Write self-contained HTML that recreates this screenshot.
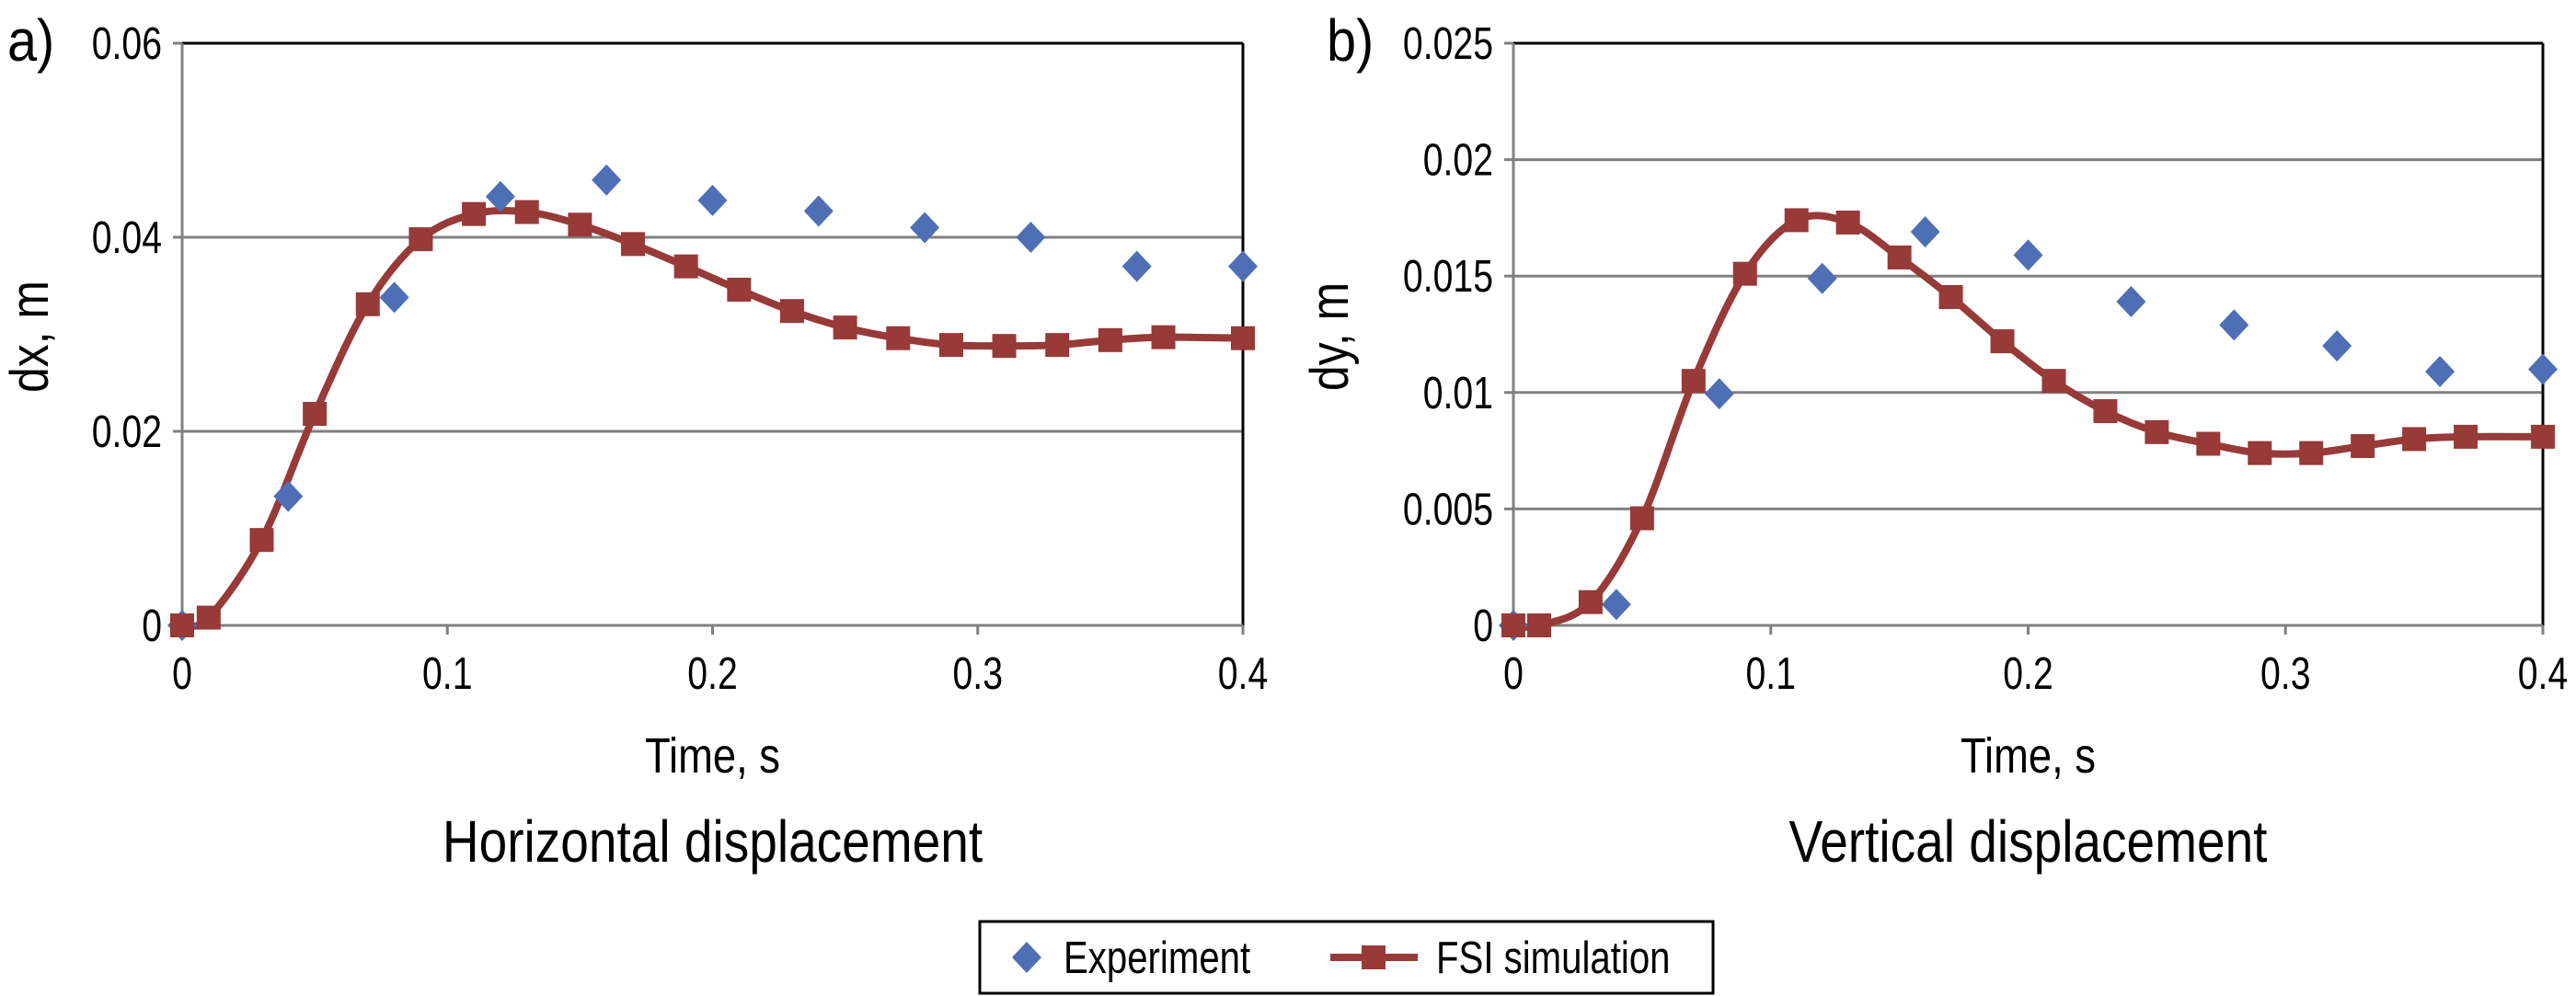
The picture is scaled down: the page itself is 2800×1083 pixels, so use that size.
<!DOCTYPE html>
<html><head><meta charset="utf-8"><style>
html,body{margin:0;padding:0;background:#fff;}
svg{display:block;}
text{font-family:"Liberation Sans",sans-serif;fill:#000;}
</style></head><body>
<svg id="chart" width="2800" height="1083" viewBox="0 0 2800 1083" xmlns="http://www.w3.org/2000/svg"></svg>
<script>
const expTimes = [0,0.04,0.08,0.12,0.16,0.2,0.24,0.28,0.32,0.36,0.4];
const expDx = [0,0.0133,0.0338,0.0442,0.0459,0.0438,0.0427,0.0410,0.0400,0.0370,0.0370];
const expDy = [0,0.0009,0.00995,0.0149,0.0169,0.0159,0.0139,0.0129,0.0120,0.0109,0.0110];
const simTimes = [0,0.01,0.03,0.05,0.07,0.09,0.11,0.13,0.15,0.17,0.19,0.21,0.23,0.25,0.27,0.29,0.31,0.33,0.35,0.37,0.4];
const simDx = [0,0.0008,0.0088,0.0218,0.0331,0.0398,0.0424,0.0426,0.0413,0.0393,0.0370,0.0346,0.0324,0.0307,0.0296,0.0289,0.0288,0.0289,0.0294,0.0297,0.0296];
const simDy = [0,0,0.0010,0.0046,0.0105,0.0151,0.0174,0.0173,0.0158,0.0141,0.0122,0.0105,0.0092,0.0083,0.0078,0.0074,0.0074,0.0077,0.0080,0.0081,0.0081];
const xTicks = [0,0.1,0.2,0.3,0.4];
const xTickLabels = ["0","0.1","0.2","0.3","0.4"];
const yTicksA = [0,0.02,0.04,0.06];
const yTickLabelsA = ["0","0.02","0.04","0.06"];
const yTicksB = [0,0.005,0.01,0.015,0.02,0.025];
const yTickLabelsB = ["0","0.005","0.01","0.015","0.02","0.025"];

const NS="http://www.w3.org/2000/svg";
const svg=document.getElementById('chart');
function mk(tag,attrs,parent){const e=document.createElementNS(NS,tag);for(const k in attrs)e.setAttribute(k,attrs[k]);(parent||svg).appendChild(e);return e;}
function txt(x,y,anchor,size,sx,str,parent,rot){
  const tr=rot?`translate(${x},${y}) rotate(${rot}) scale(${sx},1)`:`translate(${x},${y}) scale(${sx},1)`;
  const t=mk('text',{x:0,y:0,'text-anchor':anchor,'font-size':size,transform:tr},parent);
  t.textContent=str;return t;
}
const RED="#973a38",BLUE="#4e6fb5";

function panel(cfg){
  const g=mk('g',{});
  
  
  const L=cfg.left,R=cfg.right,T=47,B=680;
  const xs=v=>L+(v/0.4)*(R-L);
  const ys=v=>B-(v/cfg.ymax)*(B-T);
  cfg.yTicks.forEach((v,i)=>{
    if(v>0 && v<cfg.ymax){
      const gl=mk('line',{x1:L,x2:R,y1:ys(v),y2:ys(v),stroke:'#808080','stroke-width':3},g);
      
      
    }
    mk('line',{x1:L-10,x2:L,y1:ys(v),y2:ys(v),stroke:'#808080','stroke-width':3},g);
    const t=txt(L-22,ys(v)+17,'end',49,0.8,cfg.yLabels[i],g);
    
    
  });
  mk('line',{x1:L,x2:R,y1:T,y2:T,stroke:'#000','stroke-width':3},g);
  mk('line',{x1:R,x2:R,y1:T,y2:B,stroke:'#000','stroke-width':3},g);
  mk('line',{x1:L,x2:L,y1:T,y2:B,stroke:'#808080','stroke-width':3},g);
  mk('line',{x1:L,x2:R,y1:B,y2:B,stroke:'#808080','stroke-width':3},g);
  xTicks.forEach((v,i)=>{
    mk('line',{x1:xs(v),x2:xs(v),y1:B,y2:B+10,stroke:'#808080','stroke-width':3},g);
    const t=txt(xs(v),749,'middle',49,0.8,xTickLabels[i],g);
    
    
  });
  const pts=simTimes.map((t,i)=>[xs(t),ys(cfg.sim[i])]);
  let d=`M${pts[0][0]},${pts[0][1]}`;
  for(let i=0;i<pts.length-1;i++){
    const p0=pts[Math.max(0,i-1)],p1=pts[i],p2=pts[i+1],p3=pts[Math.min(pts.length-1,i+2)];
    const c1=[p1[0]+(p2[0]-p0[0])/6,p1[1]+(p2[1]-p0[1])/6];
    const c2=[p2[0]-(p3[0]-p1[0])/6,p2[1]-(p3[1]-p1[1])/6];
    d+=` C${c1[0]},${c1[1]} ${c2[0]},${c2[1]} ${p2[0]},${p2[1]}`;
  }
  const line=mk('path',{d:d,fill:'none',stroke:RED,'stroke-width':8},g);
  
  
  expTimes.forEach((t,i)=>{
    const x=xs(t),y=ys(cfg.exp[i]);
    const p=mk('polygon',{points:`${x},${y-17} ${x+16},${y} ${x},${y+17} ${x-16},${y}`,fill:BLUE},g);
    
    
  });
  pts.forEach(p=>{
    const r=mk('rect',{x:p[0]-13,y:p[1]-13,width:26,height:26,fill:RED},g);
    
    
  });
  const xt=txt((L+R)/2,840,'middle',54,0.84,'Time, s',g);
  
  
  const ti=txt((L+R)/2,937,'middle',64,0.86,cfg.title,g);
  
  
  const yt=txt(cfg.ytx,366,'middle',58,0.86,cfg.ytitle,g,-90);
  
  
  const lb=txt(cfg.lblx,66,'start',64,0.9,cfg.label,g);
  
  
}
panel({name:'panel-a-horizontal',left:198,right:1351,ymax:0.06,yTicks:yTicksA,yLabels:yTickLabelsA,exp:expDx,sim:simDx,title:'Horizontal displacement',ytitle:'dx, m',ytx:52,label:'a)',lblx:8});
panel({name:'panel-b-vertical',left:1645,right:2764,ymax:0.025,yTicks:yTicksB,yLabels:yTickLabelsB,exp:expDy,sim:simDy,title:'Vertical displacement',ytitle:'dy, m',ytx:1465,label:'b)',lblx:1442});

const lg=mk('g',{});


mk('rect',{x:1065,y:1002,width:797,height:78,fill:'#fff',stroke:'#000','stroke-width':3},lg);
const le1=mk('g',{},lg);


mk('polygon',{points:'1116,1024 1132,1041 1116,1058 1100,1041',fill:BLUE},le1);
txt(1156,1058,'start',49,0.82,'Experiment',le1);
const le2=mk('g',{},lg);


mk('line',{x1:1446,x2:1541,y1:1041,y2:1041,stroke:RED,'stroke-width':8},le2);
mk('rect',{x:1480,y:1028,width:26,height:26,fill:RED},le2);
txt(1561,1058,'start',49,0.82,'FSI simulation',le2);
</script>
</body></html>
